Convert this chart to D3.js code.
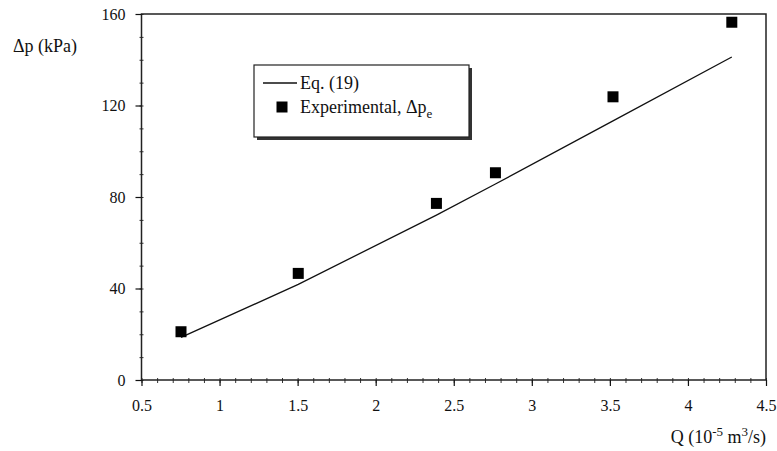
<!DOCTYPE html>
<html><head><meta charset="utf-8">
<script src="https://cdn.jsdelivr.net/npm/d3@7"></script>
<style>body{margin:0;background:#fff}svg{display:block}</style>
</head><body>
<svg id="c" width="777" height="451"></svg>
<script>
// Data
const expQ = [0.753, 1.504, 2.389, 2.767, 3.52, 4.281];
const expDp = [21.1, 46.6, 77.2, 90.6, 123.8, 156.4];
const eqQ = [0.753, 1.504, 2.389, 2.767, 3.52, 4.281];
const eqDp = [18.6, 41.8, 72.1, 85.7, 113.3, 141.2];
const xTicks = [0.5, 1, 1.5, 2, 2.5, 3, 3.5, 4, 4.5];
const yTicks = [0, 40, 80, 120, 160];

const FONT = '"Times New Roman", Tinos, "Liberation Serif", "DejaVu Serif", "Noto Serif", FreeSerif, serif';
const svg = d3.select("#c").attr("font-family", FONT);
const L = 141.5, R = 766, T = 14, B = 380;
const x = d3.scaleLinear().domain([0.5, 4.5]).range([L, R]);
const y = d3.scaleLinear().domain([0, 160]).range([B, T]);

// minor ticks
const xMinor = d3.range(0.5, 4.501, 0.1);
const yMinor = d3.range(0, 160.01, 10);
svg.append("g").attr("transform", `translate(0,${B})`)
  .call(d3.axisBottom(x).tickValues(xMinor).tickSize(3).tickFormat(""))
  .call(g => g.select(".domain").remove())
  .call(g => g.selectAll("line").attr("stroke", "#333").attr("y1", -2));
svg.append("g").attr("transform", `translate(${L},0)`)
  .call(d3.axisLeft(y).tickValues(yMinor).tickSize(2).tickFormat(""))
  .call(g => g.select(".domain").remove())
  .call(g => g.selectAll("line").attr("stroke", "#333").attr("x1", 2));

// frame
svg.append("rect").attr("x", L).attr("y", T).attr("width", R - L).attr("height", B - T)
  .attr("fill", "none").attr("stroke", "#222").attr("stroke-width", 1.5);

// major axes
const xa = svg.append("g").attr("transform", `translate(0,${B})`)
  .call(d3.axisBottom(x).tickValues(xTicks).tickSize(6).tickPadding(14).tickFormat(d3.format("")))
  .attr("font-family", FONT).attr("font-size", 16);
xa.select(".domain").remove();
xa.selectAll("line").attr("stroke", "#111").attr("stroke-width", 1.2);
xa.selectAll("text").attr("fill", "#111");

const ya = svg.append("g").attr("transform", `translate(${L},0)`)
  .call(d3.axisLeft(y).tickValues(yTicks).tickSize(6).tickPadding(10).tickFormat(d3.format("")))
  .attr("font-family", FONT).attr("font-size", 16);
ya.select(".domain").remove();
ya.selectAll("line").attr("stroke", "#111").attr("stroke-width", 1.2);
ya.selectAll("text").attr("fill", "#111");

// Eq line
svg.append("path").datum(eqQ.map((q, i) => [q, eqDp[i]]))
  .attr("fill", "none").attr("stroke", "#111").attr("stroke-width", 1.3)
  .attr("d", d3.line().x(d => x(d[0])).y(d => y(d[1])));

// experimental
const S = 11;
svg.selectAll("rect.pt").data(expQ.map((q, i) => [q, expDp[i]])).enter().append("rect")
  .attr("class", "pt").attr("x", d => x(d[0]) - S / 2).attr("y", d => y(d[1]) - S / 2)
  .attr("width", S).attr("height", S).attr("fill", "#000");

// axis labels
svg.append("text").attr("x", 13).attr("y", 52).attr("font-size", 18).attr("fill", "#111").text("Δp (kPa)");
const xl = svg.append("text").attr("x", 766).attr("y", 443).attr("text-anchor", "end").attr("font-size", 18).attr("fill", "#111");
xl.append("tspan").text("Q (10");
xl.append("tspan").attr("dy", -7).attr("font-size", 13).text("-5");
xl.append("tspan").attr("dy", 7).text(" m");
xl.append("tspan").attr("dy", -7).attr("font-size", 13).text("3");
xl.append("tspan").attr("dy", 7).text("/s)");

// legend
const lg = svg.append("g");
lg.append("rect").attr("x", 257).attr("y", 68).attr("width", 215).attr("height", 72).attr("fill", "#333");
lg.append("rect").attr("x", 254).attr("y", 65).attr("width", 215).attr("height", 72)
  .attr("fill", "#fff").attr("stroke", "#222").attr("stroke-width", 1.2);
lg.append("line").attr("x1", 263).attr("x2", 297).attr("y1", 83).attr("y2", 83).attr("stroke", "#111").attr("stroke-width", 1.3);
lg.append("text").attr("x", 300).attr("y", 89).attr("font-size", 18).attr("fill", "#111").text("Eq. (19)");
lg.append("rect").attr("x", 282 - S / 2).attr("y", 107 - S / 2).attr("width", S).attr("height", S).attr("fill", "#000");
const t2 = lg.append("text").attr("x", 300).attr("y", 113).attr("font-size", 18).attr("fill", "#111");
t2.append("tspan").text("Experimental, Δp");
t2.append("tspan").attr("dy", 5).attr("font-size", 13).text("e");
</script>
</body></html>
